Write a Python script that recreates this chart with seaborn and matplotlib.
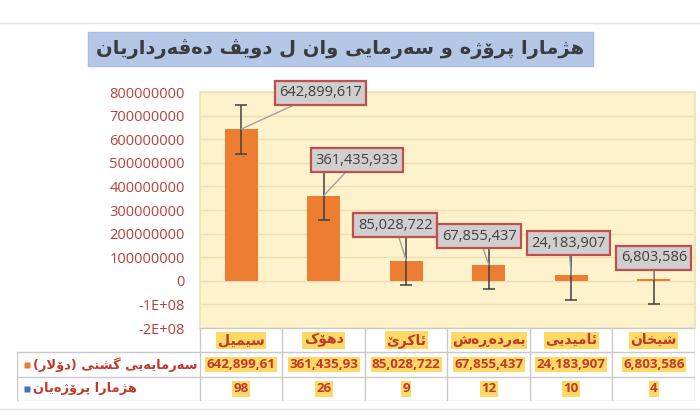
import matplotlib
matplotlib.use("Agg")
import matplotlib.pyplot as plt
import seaborn as sns
from matplotlib.patches import Rectangle
from matplotlib.lines import Line2D

# data
title = "هژمارا پرۆژە و سەرمایێ وان ل دویڤ دەڤەرداریان"
categories = ["سێمێل", "دهۆک", "ئاکرێ", "بەردەڕەش", "ئامێدیێ", "شێخان"]
investment = [642899617, 361435933, 85028722, 67855437, 24183907, 6803586]
projects = [98, 26, 9, 12, 10, 4]
error_bar = 103500000
row_labels = ["سەرمایەیێ گشتی (دۆلار)", "هژمارا پرۆژەیان"]
table_values = ["642,899,61", "361,435,93", "85,028,722", "67,855,437", "24,183,907", "6,803,586"]
yticks = [-200000000, -100000000, 0, 100000000, 200000000, 300000000,
          400000000, 500000000, 600000000, 700000000, 800000000]
ytick_labels = ["-2E+08", "-1E+08", "0", "100000000", "200000000", "300000000",
                "400000000", "500000000", "600000000", "700000000", "800000000"]

# label offsets (points) of the data-label boxes from the bar tops
label_offsets = [(57, 26), (24, 25.5), (-8, 25.5), (-7, 20.5), (-2, 23), (0, 15.5)]

# matplotlib has no arabic shaping, so map letters to presentation forms
FORMS = {
    "\u0627": ("\uFE8D", "\uFE8E"),
    "\u0626": ("\uFE89", "\uFE8A", "\uFE8B", "\uFE8C"),
    "\u0628": ("\uFE8F", "\uFE90", "\uFE91", "\uFE92"),
    "\u062A": ("\uFE95", "\uFE96", "\uFE97", "\uFE98"),
    "\u062C": ("\uFE9D", "\uFE9E", "\uFE9F", "\uFEA0"),
    "\u062D": ("\uFEA1", "\uFEA2", "\uFEA3", "\uFEA4"),
    "\u062E": ("\uFEA5", "\uFEA6", "\uFEA7", "\uFEA8"),
    "\u062F": ("\uFEA9", "\uFEAA"),
    "\u0631": ("\uFEAD", "\uFEAE"),
    "\u0632": ("\uFEAF", "\uFEB0"),
    "\u0633": ("\uFEB1", "\uFEB2", "\uFEB3", "\uFEB4"),
    "\u0634": ("\uFEB5", "\uFEB6", "\uFEB7", "\uFEB8"),
    "\u0639": ("\uFEC9", "\uFECA", "\uFECB", "\uFECC"),
    "\u0641": ("\uFED1", "\uFED2", "\uFED3", "\uFED4"),
    "\u0642": ("\uFED5", "\uFED6", "\uFED7", "\uFED8"),
    "\u0644": ("\uFEDD", "\uFEDE", "\uFEDF", "\uFEE0"),
    "\u0645": ("\uFEE1", "\uFEE2", "\uFEE3", "\uFEE4"),
    "\u0646": ("\uFEE5", "\uFEE6", "\uFEE7", "\uFEE8"),
    "\u0647": ("\uFEE9", "\uFEEA", "\uFEEB", "\uFEEC"),
    "\u0648": ("\uFEED", "\uFEEE"),
    "\u067E": ("\uFB56", "\uFB57", "\uFB58", "\uFB59"),
    "\u0698": ("\uFB8A", "\uFB8B"),
    "\u06A4": ("\uFB6A", "\uFB6B", "\uFB6C", "\uFB6D"),
    "\u06A9": ("\uFB8E", "\uFB8F", "\uFB90", "\uFB91"),
    "\u06AF": ("\uFB92", "\uFB93", "\uFB94", "\uFB95"),
    "\u06CC": ("\uFBFC", "\uFBFD", "\uFBFE", "\uFBFF"),
    "\u06CE": ("\u06CE", "\uFBFD", "\uFBFE", "\uFBFF"),
    "\u06C6": ("\uFBD9", "\uFBDA"),
    "\u06D5": ("\uFEE9", "\uFEEA"),
    "\u0695": ("\u0695", "\u0695"),
}


def rtl(text):
    out = []
    i = 0
    n = len(text)
    while i < n:
        c = text[i]
        if c not in FORMS:
            out.append(c)
            i += 1
            continue
        prev = text[i - 1] if i > 0 else ""
        nxt = text[i + 1] if i + 1 < n else ""
        p = prev in FORMS and len(FORMS[prev]) == 4
        if c == "\u0644" and nxt == "\u0627":
            out.append("\uFEFC" if p else "\uFEFB")
            i += 2
            continue
        f = FORMS[c]
        nx = len(f) == 4 and nxt in FORMS
        if p and nx:
            out.append(f[3])
        elif nx:
            out.append(f[2])
        elif p:
            out.append(f[1])
        else:
            out.append(f[0])
        i += 1
    return "".join(out)[::-1].translate(str.maketrans("()", ")("))


sns.set_theme(style="white")
plt.rcParams["font.family"] = ["Open Sans", "DejaVu Sans"]

RED = "#c0392b"
ORANGE = "#ed7d31"
W, H = 700, 420
fig = plt.figure(figsize=(7, 4.2), dpi=100)

# faint frame lines of the screenshot
fig.add_artist(Line2D([0, 1], [1 - 23 / H] * 2, color="#e3e3e3", lw=1))
fig.add_artist(Line2D([0, 1], [1 - 409 / H] * 2, color="#e3e3e3", lw=1))

# title box
fig.add_artist(Rectangle((88 / W, 1 - 66 / H), (593 - 88) / W, 34 / H,
                         transform=fig.transFigure, fc="#b4c7e7", ec="#a9bde0", lw=1))
fig.text((88 + 593) / 2 / W, 1 - 49 / H, rtl(title), family="DejaVu Sans",
         weight="bold", fontsize=14, color="#3b3b3b", ha="center", va="center")

# main chart
left, right, top, bottom = 200, 695, 92, 328
ax = fig.add_axes([left / W, 1 - bottom / H, (right - left) / W, (bottom - top) / H])
ax.set_facecolor("#fef2cc")
sns.barplot(x=list(range(len(categories))), y=investment, color=ORANGE,
            width=0.4, saturation=1, errorbar=None, linewidth=0, ax=ax, zorder=2)
ax.errorbar(range(len(categories)), investment, yerr=error_bar, fmt="none",
            ecolor="#404040", elinewidth=1.1, capsize=4, capthick=1.1, zorder=3)
ax.set_xlim(-0.5, len(categories) - 0.5)
ax.set_ylim(yticks[0], yticks[-1])
ax.set_yticks(yticks)
ax.set_yticklabels(ytick_labels, color="#b8413b", fontsize=10.5)
ax.tick_params(axis="y", length=0, pad=11)
ax.set_xticks([])
ax.set_xlabel("")
ax.grid(axis="y", color="#efdeb0", lw=1)
ax.set_axisbelow(True)
for s in ax.spines.values():
    s.set_color("#f0e2bb")

for i, v in enumerate(investment):
    ax.annotate(f"{v:,}", xy=(i, v), xytext=label_offsets[i], textcoords="offset points",
                ha="center", va="center", fontsize=10.5, color="#404040",
                bbox=dict(boxstyle="square,pad=0.3", fc="#d0cece", ec="#c0504d", lw=1.6),
                arrowprops=dict(arrowstyle="-", color="#a0a0a0", lw=1, shrinkA=0, shrinkB=0),
                annotation_clip=False, zorder=5)

# data table under the chart
col_w = (right - left) / len(categories)
tab_left = 17
tx0 = -0.5 - (left - tab_left) / col_w
tab = fig.add_axes([tab_left / W, 1 - 401 / H, (right - tab_left) / W, (401 - bottom) / H])
tab.set_xlim(tx0, len(categories) - 0.5)
tab.set_ylim(3, 0)
tab.axis("off")
grid_c = "#c9c9c9"
tab.plot([-0.5, len(categories) - 0.5], [0, 0], color=grid_c, lw=1)
for yy in [1, 2, 3]:
    tab.plot([tx0, len(categories) - 0.5], [yy, yy], color=grid_c, lw=1)
tab.plot([tx0, tx0], [1, 3], color=grid_c, lw=1)
for k in range(len(categories) + 1):
    tab.plot([k - 0.5, k - 0.5], [0, 3], color=grid_c, lw=1)

hl = dict(boxstyle="square,pad=0.1", fc="#ffd966", ec="none")
for i, name in enumerate(categories):
    tab.text(i, 0.5, rtl(name), family="DejaVu Sans", weight="bold", fontsize=10,
             color=RED, ha="center", va="center", bbox=hl)
    tab.text(i, 1.5, table_values[i], weight="bold", fontsize=9.6,
             color=RED, ha="center", va="center", bbox=hl)
    tab.text(i, 2.5, str(projects[i]), weight="bold", fontsize=9.6,
             color=RED, ha="center", va="center", bbox=hl)

for r, (lab, key) in enumerate(zip(row_labels, [ORANGE, "#4472c4"])):
    tab.plot(tx0 + 10 / col_w, 1.5 + r, marker="s", ms=5, color=key, mec="none")
    tab.text(tx0 + 16 / col_w, 1.5 + r, rtl(lab), family="DejaVu Sans", weight="bold",
             fontsize=9.4, color=RED, ha="left", va="center")

fig.savefig("out.png", dpi=100)
